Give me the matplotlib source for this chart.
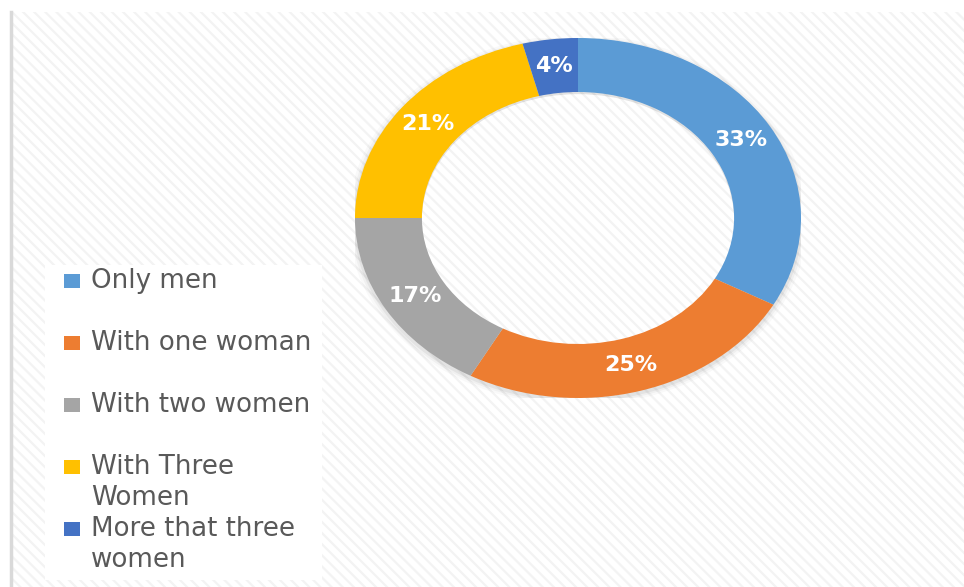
import matplotlib
matplotlib.use('Agg')
import matplotlib.pyplot as plt
from matplotlib.patches import Rectangle, Wedge

categories = ['Only men', 'With one woman', 'With two women', 'With Three\nWomen', 'More that three\nwomen']
shares = [33, 25, 17, 21, 4]
colors = ['#5B9BD5', '#ED7D31', '#A5A5A5', '#FFC000', '#4472C4']

W, H = 964, 587
plt.rcParams['hatch.color'] = '#f3f3f3'
plt.rcParams['hatch.linewidth'] = 1.6
plt.rcParams['font.family'] = ['DejaVu Sans']

fig = plt.figure(figsize=(W / 100, H / 100), dpi=100)

# hatched chart area with a grey left border
fig.add_artist(Rectangle((10 / W, 0), 1, 1 - 12 / H, transform=fig.transFigure,
                         facecolor='white', edgecolor='#f3f3f3', hatch='\\\\\\', lw=0, zorder=0))
fig.add_artist(plt.Line2D([11 / W, 11 / W], [0, 1 - 12 / H], transform=fig.transFigure,
                          color='#d9d9d9', lw=2.5, zorder=1))

# donut (stretched horizontally like the source picture)
ax = fig.add_axes([355 / W, (H - 398) / H, 446 / W, 360 / H])
ax.patch.set_alpha(0)
# soft shadow behind the ring
for r, a in [(1.03, 0.025), (1.018, 0.035), (1.008, 0.05)]:
    ax.add_patch(Wedge((0, -0.012), r, 0, 360, width=r - 0.7, color='black', alpha=a, lw=0))
wedges, texts, autotexts = ax.pie(shares, colors=colors, startangle=90, counterclock=False,
                                  radius=1.0, wedgeprops=dict(width=0.3, linewidth=0),
                                  autopct='%d%%', pctdistance=0.85,
                                  textprops=dict(color='white', fontsize=16, fontweight='bold'))
ax.set_aspect('auto')
ax.set_xlim(-1, 1)
ax.set_ylim(-1, 1)

# legend panel
fig.add_artist(Rectangle((45 / W, (H - 580) / H), 277 / W, 315 / H, transform=fig.transFigure,
                         facecolor='white', lw=0, zorder=2))
row_y = [281, 343, 405, 467, 529]
for label, c, y in zip(categories, colors, row_y):
    fig.add_artist(Rectangle((64 / W, (H - y - 7) / H), 16 / W, 14 / H, transform=fig.transFigure,
                             facecolor=c, lw=0, zorder=3))
    for i, ln in enumerate(label.split('\n')):
        fig.text(91 / W, (H - y - 31 * i) / H, ln, fontsize=18.8, color='#595959',
                 va='center', ha='left', zorder=3)

fig.savefig('out.png', dpi=100)
